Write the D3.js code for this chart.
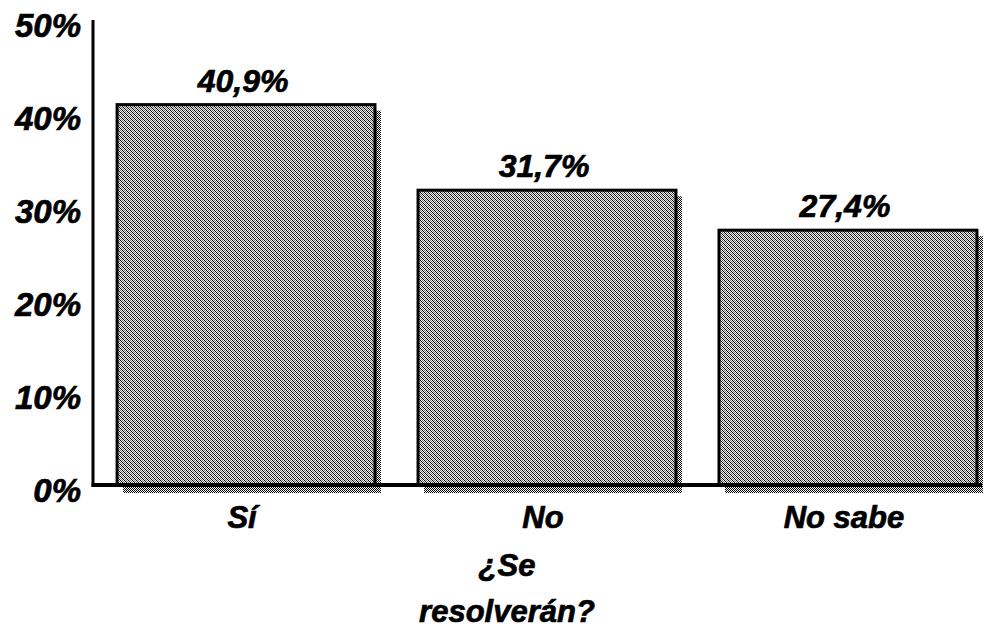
<!DOCTYPE html>
<html>
<head>
<meta charset="utf-8">
<script src="https://cdn.jsdelivr.net/npm/d3@7"></script>
<style>
  body { margin: 0; background: #fff; }
  text { font-family: "Liberation Sans", Arial, sans-serif; font-weight: bold; font-style: italic; fill: #000; stroke: #000; stroke-width: 0.7px; }
</style>
</head>
<body>
<div id="chart"></div>
<script>
// Data
const categories = ["Sí", "No", "No sabe"];
const values = [40.9, 31.7, 27.4];
const valueLabels = ["40,9%", "31,7%", "27,4%"];
const tickValues = [0, 10, 20, 30, 40, 50];
const titleLines = ["¿Se", "resolverán?"];

const width = 992;
const height = 634;

const svg = d3.select("#chart")
    .append("svg")
    .attr("width", width)
    .attr("height", height);

// Dithered fills, like the halftone of the scan
const defs = svg.append("defs");
const barPat = defs.append("pattern")
    .attr("id", "barFill")
    .attr("patternUnits", "userSpaceOnUse")
    .attr("width", 4)
    .attr("height", 4);
barPat.append("rect").attr("width", 4).attr("height", 4).attr("fill", "#eee");
[[0, 0], [1, 1], [2, 2], [3, 3]].forEach(([x, y]) =>
    barPat.append("rect").attr("x", x).attr("y", y).attr("width", 1).attr("height", 1).attr("fill", "#000"));
[[2, 0], [3, 1], [0, 2], [1, 3]].forEach(([x, y]) =>
    barPat.append("rect").attr("x", x).attr("y", y).attr("width", 1).attr("height", 1).attr("fill", "#707070"));

const shadowPat = defs.append("pattern")
    .attr("id", "shadowFill")
    .attr("patternUnits", "userSpaceOnUse")
    .attr("width", 2)
    .attr("height", 2);
shadowPat.append("rect").attr("width", 2).attr("height", 2).attr("fill", "#fff");
shadowPat.append("rect").attr("width", 1).attr("height", 1).attr("fill", "#000");
shadowPat.append("rect").attr("x", 1).attr("y", 1).attr("width", 1).attr("height", 1).attr("fill", "#000");

const x = d3.scaleBand()
    .domain(categories)
    .range([96, 998])
    .paddingInner(0.143)
    .paddingOuter(0.07);

const y = d3.scaleLinear()
    .domain([0, 50])
    .range([485, 20]);

const shadow = 6;

// Shadows behind bars
svg.selectAll("rect.shadow")
    .data(values)
    .enter()
    .append("rect")
    .attr("class", "shadow")
    .attr("x", (d, i) => x(categories[i]) + shadow)
    .attr("y", d => y(d) + shadow)
    .attr("width", x.bandwidth())
    .attr("height", d => y(0) - y(d) + 2)
    .attr("fill", "url(#shadowFill)");

// Bars
svg.selectAll("rect.bar")
    .data(values)
    .enter()
    .append("rect")
    .attr("class", "bar")
    .attr("x", (d, i) => x(categories[i]))
    .attr("y", d => y(d))
    .attr("width", x.bandwidth())
    .attr("height", d => y(0) - y(d))
    .attr("fill", "url(#barFill)")
    .attr("stroke", "#000")
    .attr("stroke-width", 3);

// Value labels
svg.selectAll("text.value")
    .data(values)
    .enter()
    .append("text")
    .attr("class", "value")
    .attr("x", (d, i) => x(categories[i]) + x.bandwidth() / 2 - 3)
    .attr("y", d => y(d) - 13)
    .attr("text-anchor", "middle")
    .style("font-size", "32px")
    .text((d, i) => valueLabels[i]);

// Y axis: line plus labels only
const yAxis = svg.append("g")
    .attr("transform", "translate(93,0)")
    .call(d3.axisLeft(y).tickValues(tickValues).tickSize(0).tickPadding(12).tickFormat(d => d + "%"));
yAxis.select(".domain").remove();
yAxis.selectAll("text")
    .attr("dy", "0.4em")
    .attr("transform", "translate(0,3)")
    .style("font-size", "33px")
    .style("font-family", "Liberation Sans, Arial, sans-serif");

svg.append("line")
    .attr("x1", 93).attr("x2", 93)
    .attr("y1", 20).attr("y2", y(0) + 1.5)
    .attr("stroke", "#000")
    .attr("stroke-width", 3);

// Baseline
svg.append("line")
    .attr("x1", 91.5).attr("x2", 982)
    .attr("y1", y(0)).attr("y2", y(0))
    .attr("stroke", "#000")
    .attr("stroke-width", 4);

// Category labels
svg.selectAll("text.cat")
    .data(categories)
    .enter()
    .append("text")
    .attr("class", "cat")
    .attr("x", d => x(d) + x.bandwidth() / 2 - 4)
    .attr("y", 528)
    .attr("text-anchor", "middle")
    .style("font-size", "31px")
    .text(d => d);

// Axis title
svg.selectAll("text.title")
    .data(titleLines)
    .enter()
    .append("text")
    .attr("class", "title")
    .attr("x", 507)
    .attr("y", (d, i) => 576 + i * 46)
    .attr("text-anchor", "middle")
    .style("font-size", "31px")
    .text(d => d);
</script>
</body>
</html>
